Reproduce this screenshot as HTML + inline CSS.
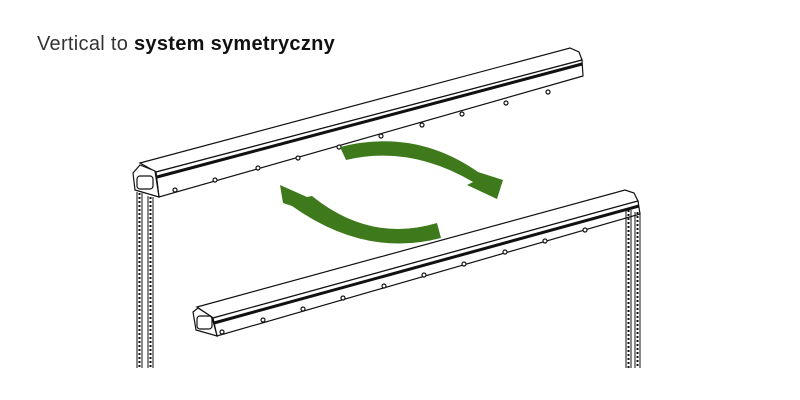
<!DOCTYPE html>
<html><head><meta charset="utf-8"><style>
body{margin:0;background:#fff;width:800px;height:400px;overflow:hidden;position:relative;font-family:"Liberation Sans",sans-serif}
.t{position:absolute;left:37px;top:33px;font-size:20px;color:#333;letter-spacing:0.3px}
.t b{font-weight:bold;color:#111}
</style></head><body>
<div class="t">Vertical to <b>system symetryczny</b></div>
<svg width="800" height="400" style="position:absolute;left:0;top:0" fill="none" stroke="#111" stroke-width="1.2">
<!-- top rail -->
<path d="M140,163 L570,48 L579,52 L582,60 L156,172 Z" fill="#fff"/>
<path d="M156,172 L582,60 L583,76 L159,197 Z" fill="#fff"/>
<path d="M157,177 L582,64" stroke-width="3"/>
<path d="M133,173 L140,165 L155,171 L159,197 L135,190 Z" fill="#fff"/>
<rect x="137" y="176" width="16" height="13" rx="3"/>
<g fill="#fff">
<circle cx="175" cy="190" r="2"/><circle cx="215" cy="180" r="2"/><circle cx="258" cy="168" r="2"/><circle cx="298" cy="158" r="2"/><circle cx="339" cy="147" r="2"/><circle cx="381" cy="136" r="2"/><circle cx="422" cy="125" r="2"/><circle cx="462" cy="114" r="2"/><circle cx="506" cy="103" r="2"/><circle cx="548" cy="92" r="2"/>
</g>
<!-- left chain -->
<path d="M137,192 L137,368 M142,193 L142,368 M148,196 L148,368 M153,197 L153,368" stroke-width="1"/>
<path d="M139.5,193 L139.5,368 M150.5,197 L150.5,368" stroke-width="2" stroke-dasharray="2 2"/>
<!-- lower rail -->
<path d="M197,307 L625,190 L634,193 L638,201 L213,318 Z" fill="#fff"/>
<path d="M213,318 L638,201 L640,214 L217,336 Z" fill="#fff"/>
<path d="M214,323 L639,206" stroke-width="3"/>
<path d="M193,312 L198,308 L212,317 L217,336 L196,330 Z" fill="#fff"/>
<rect x="197" y="316" width="15" height="13" rx="3"/>
<g fill="#fff">
<circle cx="222" cy="332" r="2"/><circle cx="263" cy="320" r="2"/><circle cx="303" cy="309" r="2"/><circle cx="343" cy="298" r="2"/><circle cx="384" cy="286" r="2"/><circle cx="424" cy="275" r="2"/><circle cx="464" cy="264" r="2"/><circle cx="505" cy="252" r="2"/><circle cx="545" cy="241" r="2"/><circle cx="585" cy="230" r="2"/>
</g>
<!-- right chain -->
<path d="M626,210 L626,368 M631,210 L631,368 M635,212 L635,368 M640,212 L640,368" stroke-width="1"/>
<path d="M628.5,210 L628.5,368 M637.5,212 L637.5,368" stroke-width="2" stroke-dasharray="2 2"/>
<!-- arrows -->
<path d="M340,147 Q415,128 478,172 L503,180 L497,199 L467,185 L473,182 Q410,145 346,160 Z" fill="#3e7a1c" stroke="none"/>
<path d="M437,223 Q370,243 312,196 L307,197 L280,185 L283,203 L292,206 Q365,258 441,238 Z" fill="#3e7a1c" stroke="none"/>
</svg>
</body></html>
